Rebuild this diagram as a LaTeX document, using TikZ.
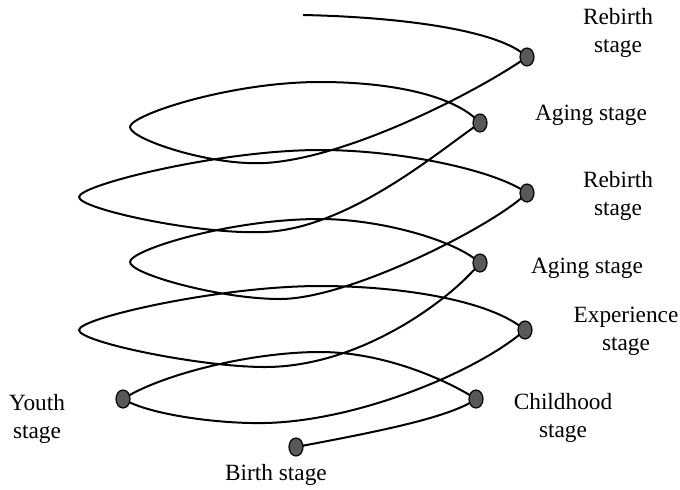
\documentclass[tikz,border=0pt]{standalone}
\usepackage{fontspec}
\setmainfont{Liberation Serif}
\usetikzlibrary{shapes.geometric,backgrounds}
\definecolor{dotgray}{RGB}{88,88,88}
\begin{document}
\begin{tikzpicture}[x=0.5pt,y=-0.5pt,
  helix/.style={line width=1pt,black,line join=round},
  stagedot/.style={ellipse,minimum width=7pt,minimum height=9pt,inner sep=0pt,fill=dotgray,draw=black,line width=0.6pt},
  stagelabel/.style={font=\fontsize{11.65}{14}\selectfont,align=center,inner sep=0pt}]
\useasboundingbox (0,0) rectangle (680,489);
% dots
\node[stagedot] (birth)    at (296,447) {};
\node[stagedot] (child)    at (476,399) {};
\node[stagedot] (youth)    at (123,399) {};
\node[stagedot] (exper)    at (525,330) {};
\node[stagedot] (agingL)   at (480,263) {};
\node[stagedot] (rebirthM) at (527,193) {};
\node[stagedot] (agingU)   at (480,123) {};
\node[stagedot] (rebirthT) at (527,57) {};
% turning points of the spiral
\coordinate (apexB) at (79,330);
\coordinate (apexA) at (130,262);
\coordinate (apexC) at (79,197);
\coordinate (apexD) at (130,127);
\coordinate (topend) at (303,15);
% labels
\node[stagelabel] (lrebT) at (618,33) {Rebirth\\stage};
\node[stagelabel] (lagU)  at (591,115) {Aging stage};
\node[stagelabel] (lrebM) at (618,196) {Rebirth\\stage};
\node[stagelabel] (lagL)  at (587,268) {Aging stage};
\node[stagelabel] (lexp)  at (626,331) {Experience\\stage};
\node[stagelabel] (lchild) at (563,418) {Childhood\\stage};
\node[stagelabel] (lyouth) at (37,419) {Youth\\stage};
\node[stagelabel] (lbirth) at (276,475) {Birth stage};
% spiral
\begin{scope}[on background layer]
\draw[helix] (birth.center) .. controls (370,433) and (450,418) .. (child.center)
  .. controls (455,385) and (390,352) .. (320,352)
  .. controls (250,352) and (160,375) .. (youth.center)
  .. controls (150,415) and (220,424) .. (265,423)
  .. controls (360,421) and (480,370) .. (exper.center)
  .. controls (490,300) and (400,286) .. (320,286)
  .. controls (220,286) and (79,318) .. (apexB)
  .. controls (79,342) and (200,367) .. (265,367)
  .. controls (360,367) and (450,300) .. (agingL.center)
  .. controls (455,240) and (380,219) .. (320,219)
  .. controls (230,219) and (130,250) .. (apexA)
  .. controls (130,274) and (220,299) .. (280,299)
  .. controls (350,299) and (495,225) .. (rebirthM.center)
  .. controls (495,170) and (400,150) .. (320,150)
  .. controls (220,150) and (79,185) .. (apexC)
  .. controls (79,209) and (200,235) .. (265,232)
  .. controls (350,228) and (440,150) .. (agingU.center)
  .. controls (455,95) and (390,82) .. (320,82)
  .. controls (230,82) and (130,115) .. (apexD)
  .. controls (130,139) and (210,166) .. (265,163)
  .. controls (350,158) and (480,90) .. (rebirthT.center)
  .. controls (500,30) and (400,17) .. (topend);
\end{scope}
\end{tikzpicture}
\end{document}
